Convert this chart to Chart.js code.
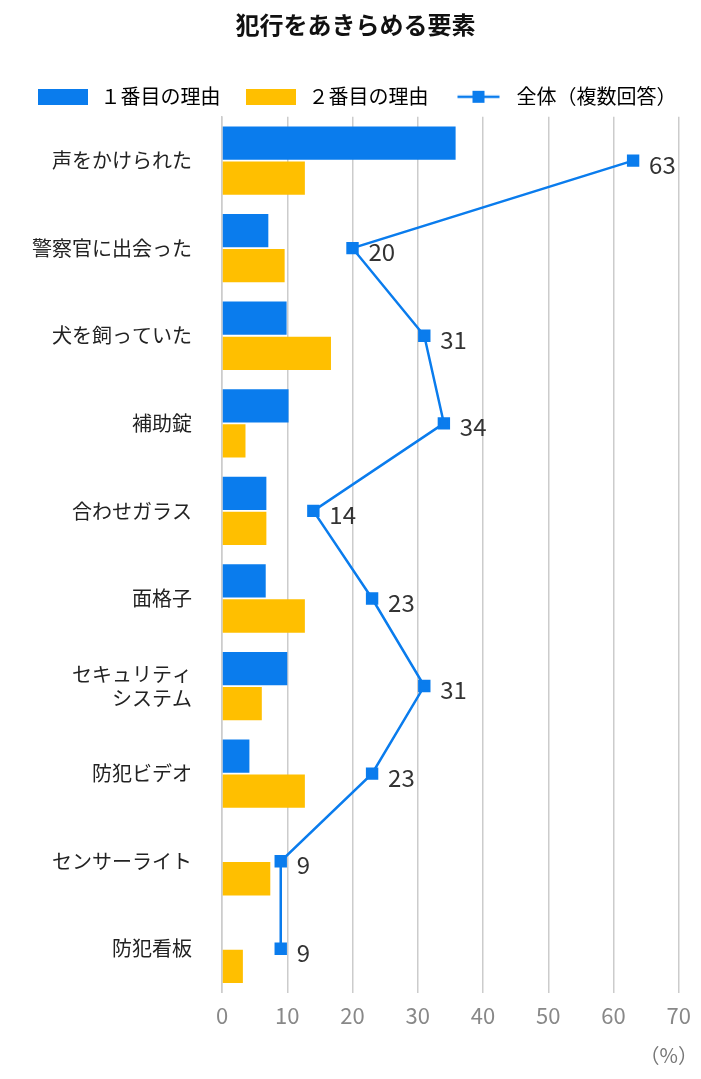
<!DOCTYPE html>
<html><head><meta charset="utf-8">
<script src="https://cdn.jsdelivr.net/npm/chart.js@4/dist/chart.umd.min.js"></script>
<style>
body{margin:0;background:#fff;font-family:"Noto Sans CJK JP",sans-serif}
#wrap{position:relative;width:701px;height:1079px}
</style></head>
<body><div id="wrap"><canvas id="c"></canvas></div>
<script>
const categories = ['声をかけられた', '警察官に出会った', '犬を飼っていた', '補助錠', '合わせガラス', '面格子', ['セキュリティ', 'システム'], '防犯ビデオ', 'センサーライト', '防犯看板'];
const firstReason = [35.8, 7.1, 9.9, 10.2, 6.8, 6.7, 10.0, 4.2, 0, 0];
const secondReason = [12.7, 9.6, 16.7, 3.6, 6.8, 12.7, 6.1, 12.7, 7.4, 3.2];
const overall = [63, 20, 31, 34, 14, 23, 31, 23, 9, 9];
const xTicks = [0, 10, 20, 30, 40, 50, 60, 70];

const blue = '#0a7ced', yellow = '#ffbf00';
const FONT = '"Noto Sans CJK JP", sans-serif';

function legendIcon(kind) {
    const c = document.createElement('canvas');
    c.width = 50; c.height = 16;
    const g = c.getContext('2d');
    if (kind === 'line') {
        g.strokeStyle = blue; g.lineWidth = 2.5;
        g.beginPath(); g.moveTo(4, 8); g.lineTo(46, 8); g.stroke();
        g.fillStyle = blue; g.fillRect(19, 2, 12, 12);
    } else {
        g.fillStyle = kind; g.fillRect(0, 0, 50, 16);
    }
    return c;
}

const valueLabels = {
    id: 'valueLabels',
    afterDatasetsDraw(chart) {
        const ctx = chart.ctx;
        const meta = chart.getDatasetMeta(0);
        ctx.save();
        ctx.font = '24px ' + FONT;
        ctx.fillStyle = '#333';
        ctx.textBaseline = 'middle';
        meta.data.forEach((pt, i) => {
            ctx.fillText(String(overall[i]), pt.x + 16, pt.y + 4);
        });
        ctx.font = '20px ' + FONT;
        ctx.fillStyle = '#777';
        ctx.textAlign = 'right';
        ctx.fillText('（%）', 698, 1055);
        ctx.restore();
    }
};

new Chart(document.getElementById('c'), {
    type: 'bar',
    data: {
        labels: categories,
        datasets: [
            { type: 'line', label: '全体（複数回答）', data: overall, borderColor: blue, backgroundColor: blue, borderWidth: 2.5, pointStyle: 'rect', pointRadius: 7, tension: 0, order: 0 },
            { label: '１番目の理由', data: firstReason, backgroundColor: blue, order: 1 },
            { label: '２番目の理由', data: secondReason, backgroundColor: yellow, order: 1 },
        ],
    },
    options: {
        indexAxis: 'y',
        responsive: true,
        maintainAspectRatio: false,
        animation: false,
        devicePixelRatio: 1,
        layout: { padding: { top: 6, right: 0, bottom: 40, left: 10 } },
        datasets: { bar: { categoryPercentage: 0.8, barPercentage: 0.95 } },
        scales: {
            x: {
                min: 0, max: 70,
                position: 'bottom',
                afterBuildTicks: (axis) => { axis.ticks = xTicks.map(v => ({ value: v })); },
                grid: { color: '#cccccc', lineWidth: 1.5, drawTicks: false },
                border: { display: false },
                ticks: { color: '#888', font: { family: FONT, size: 22 }, padding: 10 },
            },
            y: {
                grid: { display: false },
                border: { display: true, color: '#cccccc', width: 1.5 },
                ticks: { color: '#222', font: { family: FONT, size: 20 }, padding: 22 },
            },
        },
        plugins: {
            title: { display: true, text: '犯行をあきらめる要素', color: '#111', font: { family: FONT, size: 24, weight: 'bold' }, padding: { top: 4, bottom: 26 } },
            legend: {
                display: true,
                labels: {
                    color: '#222',
                    font: { family: FONT, size: 20 },
                    usePointStyle: true,
                    pointStyleWidth: 56,
                    boxHeight: 16,
                    padding: 22,
                    generateLabels: () => [
                        { text: '１番目の理由', pointStyle: legendIcon(blue), datasetIndex: 1 },
                        { text: '２番目の理由', pointStyle: legendIcon(yellow), datasetIndex: 2 },
                        { text: '全体（複数回答）', pointStyle: legendIcon('line'), datasetIndex: 0 },
                    ],
                },
            },
            tooltip: { enabled: false },
        },
    },
    plugins: [valueLabels],
});
</script></body></html>
